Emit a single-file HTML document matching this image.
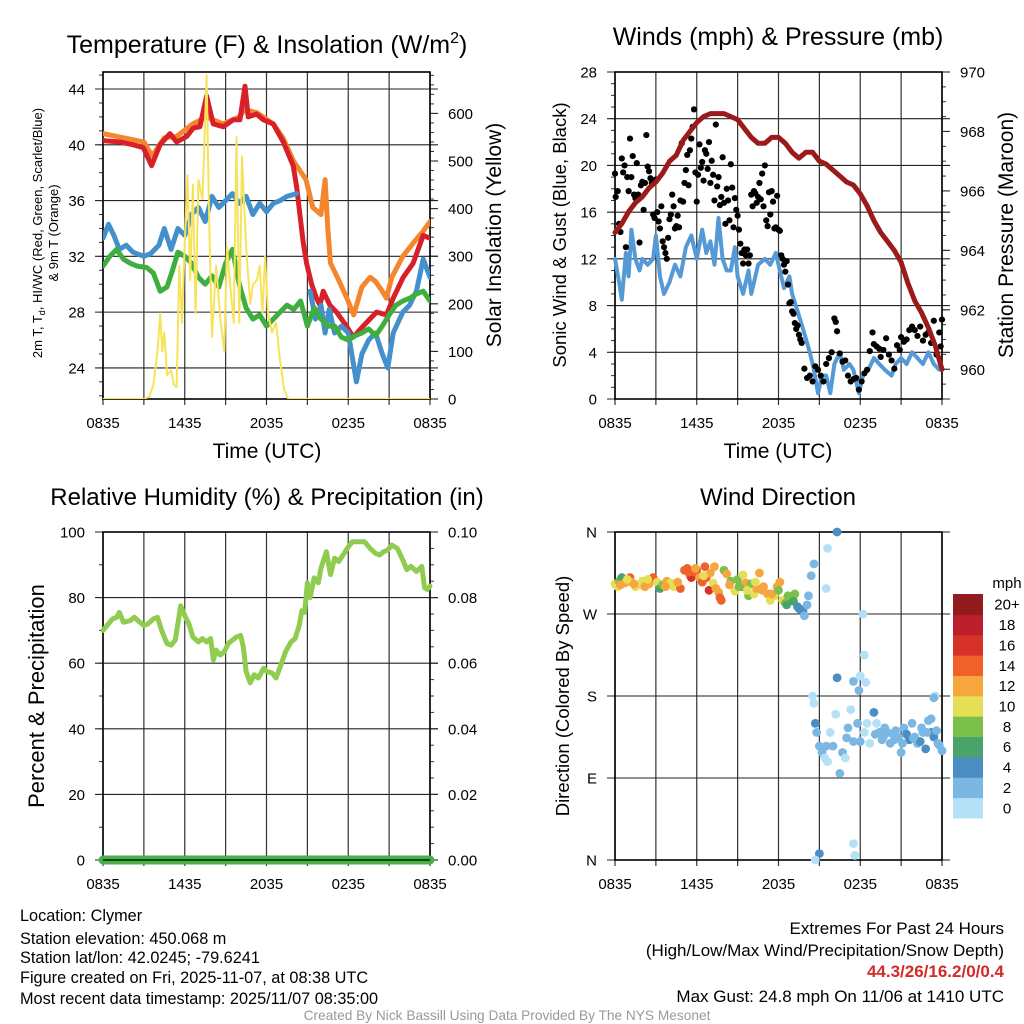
<!DOCTYPE html>
<html><head><meta charset="utf-8"><style>
html,body{margin:0;padding:0;background:#fff;}
svg{display:block;font-family:"Liberation Sans",sans-serif;}
</style></head><body>
<svg id="root" width="1024" height="1024" viewBox="0 0 1024 1024"></svg>
<script>
// ---------- DATA ----------
const tempRedT=[0,1.25,2.22,2.96,3.57,4.18,4.91,5.4,6.14,6.63,7.11,7.6,8.09,8.83,9.56,10.05,10.42,10.66,11.27,11.76,12.49,13.23,13.96,14.21,14.45,14.69,14.94,15.31,15.67,15.92,16.16,16.65,17.14,17.87,18.36,19.1,19.58,20.07,20.81,21.3,22.03,22.76,23.5,23.99];
const tempRedV=[40.3,40.2,40,39.8,38.5,40,40.8,40.2,40.6,41.2,41.3,43.5,41.5,41.3,41.8,41.8,44.2,42,42.2,41.8,41.5,40.2,38.5,37,35,33,31.5,30,29,28.5,29.5,28.5,28,27,26.2,27,27.5,28,27.8,29,30.5,31.5,33.5,33.3];
const tempOrT=[0,1.5,3,3.6,4.5,5.4,6.6,7.6,8.8,10,10.4,11.3,12.5,13.2,14,14.9,15.4,16,16.3,16.5,16.7,17.2,17.9,18.4,19,19.6,20,20.5,20.8,21.2,22,22.8,23.5,24];
const tempOrV=[40.8,40.5,40.2,39.2,40.5,40.6,41.5,42,41.5,42,42.5,42.3,41.5,40.5,38.8,37.5,35.5,35,37.5,34,31.5,30.5,29,27.8,29.8,30.5,30.2,29.5,29,30.5,32,33,33.8,34.5];
const tempBlueT=[0,0.4,0.8,1.2,1.7,2.2,3,3.5,4.1,4.5,5,5.5,6,6.5,7,7.5,8,8.5,9,9.5,10,10.5,11,11.5,12,12.5,13,13.5,14.2];
const tempBlueV=[33.3,34.3,33.5,32.5,32.8,32.3,32,32.2,32.8,34,32.5,34,33.5,35,35.5,34.5,36.3,35.5,36,36.5,35.8,36.3,35,35.8,35.2,35.8,36,36.3,36.5];
const tempBlue2T=[15.2,15.6,16,16.3,16.6,17,17.5,18,18.6,19,19.5,20,20.5,20.9,21.3,22,22.5,23,23.5,24];
const tempBlue2V=[29.5,27.5,28.5,26.5,28.2,26.5,27,26.5,23,25,26,26.5,25,24,26.5,28,28.5,29.5,31.8,30.5];
const tempGrT=[0,0.5,1,1.5,2,2.5,3.2,3.7,4.2,4.7,5.1,5.5,6,6.5,7,7.5,8,8.5,9,9.5,10,10.5,11,11.5,12,12.5,13,13.5,14,14.5,15,15.5,16,16.5,17,17.5,18,18.5,19,19.5,20,20.5,21,21.5,22,22.5,23,23.5,24];
const tempGrV=[31.3,32,32.5,31.8,31.5,31.3,31.2,30.8,29.5,29.8,31,32.3,32,31.5,30.5,30,30.6,29.8,31.5,32.5,30,28.3,27.5,27.8,27,27.5,28,28.5,28.2,28.8,27,28.3,27.5,27,27,26.2,26,26.3,26.5,26.8,26.3,27,27.8,28.5,28.8,29,29.3,29.5,28.8];
const solarT=[0,3,3.4,3.7,4,4.2,4.35,4.5,4.7,5,5.2,5.4,5.6,5.8,6,6.2,6.4,6.6,6.8,7,7.3,7.6,7.8,8,8.3,8.6,8.9,9.1,9.3,9.6,9.8,10,10.2,10.5,10.8,11,11.3,11.5,11.7,11.9,12.1,12.4,12.7,13,13.3,13.6,24];
const solarV=[0,0,5,30,100,180,100,140,50,60,30,25,280,160,330,470,250,450,180,460,420,680,360,130,280,170,100,320,250,160,550,160,510,320,200,240,250,280,180,300,180,140,160,80,20,0,0];
const windT=[0,0.3,0.5,0.8,1,1.2,1.5,1.8,2,2.4,2.8,3,3.3,3.6,4,4.4,4.8,5.2,5.6,6,6.4,6.7,7,7.3,7.6,7.9,8.2,8.5,8.8,9,9.4,9.8,10,10.5,11,11.4,11.8,12,12.4,12.8,13,13.4,13.8,14.3,14.6,14.9,15.2,15.5,15.8,16.1,16.5,16.8,17.2,17.5,17.9,18.2,18.6,19,19.4,19.8,20.3,20.6,21,21.4,21.8,22.2,22.6,23,23.4,23.8,24];
const windV=[12,10,8.5,12.5,10.5,14.5,12,11,12,11.5,12,14,10.5,9,10,11.5,10.5,13,14,12,14.5,12.5,13.5,11.5,15.5,12,11,11,13,10.5,9,11,9,11.5,12,11.5,12.5,11.5,9.5,10.5,9,7.5,6,4,2.5,0.5,2,2,0.5,3,4,2.5,3,2.5,0.5,2,2.5,3.5,3,2.5,2,3,3.5,3,4,3.5,3,4,3,2.5,2.5];
const gustT=[0,0.05,0.2,0.3,0.4,0.5,0.6,0.7,0.8,0.9,1,1.1,1.2,1.3,1.4,1.5,1.6,1.7,1.8,1.9,2,2.1,2.2,2.3,2.4,2.5,2.6,2.7,2.8,2.9,3,3.1,3.2,3.3,3.4,3.5,3.6,3.7,3.8,3.9,4,4.1,4.2,4.3,4.4,4.5,4.6,4.7,4.8,4.9,5,5.1,5.2,5.3,5.4,5.5,5.6,5.7,5.8,5.9,6,6.1,6.2,6.3,6.4,6.5,6.6,6.7,6.8,6.9,7,7.1,7.2,7.3,7.4,7.5,7.6,7.7,7.8,7.9,8,8.1,8.2,8.3,8.4,8.5,8.6,8.7,8.8,8.9,9,9.1,9.2,9.3,9.4,9.5,9.6,9.7,9.8,9.9,10,10.1,10.2,10.3,10.4,10.5,10.6,10.7,10.8,10.9,11,11.1,11.2,11.3,11.4,11.5,11.6,11.7,11.8,11.9,12,12.1,12.2,12.3,12.4,12.5,12.6,12.7,12.8,12.9,13,13.1,13.2,13.3,13.4,13.5,13.6,13.7,13.9,14.1,14.3,14.5,14.7,14.9,15.1,15.3,15.5,15.7,15.9,16.1,16.2,16.3,16.5,16.7,16.9,17.1,17.3,17.5,17.7,17.9,18.1,18.3,18.5,18.7,18.9,19,19.2,19.4,19.5,19.7,19.9,20.1,20.3,20.5,20.7,20.9,21,21.2,21.4,21.6,21.8,22,22.2,22.4,22.6,22.8,23,23.2,23.4,23.6,23.8,23.9,24];
const gustV=[19.3,17.3,17.8,15,14.3,20.6,19.4,20,13,19,17.8,22.3,19,20.8,17.5,17.2,20.2,17.5,13.4,18.3,18.6,16.2,18.5,22.6,19.9,19.5,18.9,18.5,15.8,15.5,18.8,16,15.2,14.6,16.5,13.5,13,12.5,12,13.8,15.4,15.8,17.5,16.5,14.6,14.8,15.7,14.7,17,21.9,16.9,18.5,19.6,20.9,18.3,21.3,22.3,23.3,24.8,19.4,16.9,19.2,21.8,19.8,20.3,18.7,21.3,21,19.7,22,18.5,20.4,19.2,17,23.5,18.2,19,16.6,17.3,20.7,16.8,15,18,17,15.3,20.1,18.1,14.7,17.2,16.2,15.7,14.5,13.3,12.5,11.6,12.8,12.3,12.8,11.6,12.3,17.5,16.5,17.8,17.6,16.8,17.3,18.5,17.1,19.3,16.5,20,15.3,14.8,17.7,15.8,17.8,16.9,14.6,14.7,17.4,14.5,14.4,12.3,12,11.5,10.9,11.8,9.8,8.2,8.3,7.5,7.3,6.5,6,6.3,5.5,5.1,4.8,2.6,1.8,2,1.5,2.8,2.5,2,1.5,3,3.5,4,6.9,6.6,5.8,3.9,3.2,3.3,2,1.5,1.7,1.8,0.8,1.5,2.2,2.5,4.1,5.7,4.7,4.5,4.3,3.6,4.2,5.2,3.8,3.3,2.6,4.6,4.2,5.3,4.9,5.1,5.9,6.2,5.9,5.4,6.2,5,5.5,5.7,4.8,6.7,3.8,5.7,4.5,6.8];
const presT=[0,0.5,1,1.5,2,2.5,3,3.5,4,4.5,5,5.5,6,6.5,7,7.5,8,8.5,9,9.5,10,10.5,11,11.5,12,12.5,13,13.5,14,14.5,15,15.5,16,16.5,17,17.5,18,18.5,19,19.5,20,20.5,21,21.5,22,22.5,23,23.5,24];
const presV=[964.6,964.9,965.3,965.6,965.8,966.1,966.3,966.6,967,967.2,967.7,968,968.3,968.5,968.6,968.6,968.6,968.5,968.4,968.1,967.8,967.6,967.6,967.8,967.8,967.6,967.3,967.1,967.3,967.3,967,966.9,966.7,966.5,966.3,966.2,965.9,965.5,965,964.6,964.3,964,963.6,962.9,962.3,961.9,961.4,960.8,960];
const rhT=[0,0.3,0.7,1,1.2,1.5,2,2.3,2.7,3,3.3,3.7,4,4.3,4.7,5,5.3,5.5,5.7,6,6.3,6.6,7,7.3,7.6,7.9,8.1,8.3,8.6,8.9,9.2,9.5,9.8,10.1,10.3,10.5,10.8,11.1,11.4,11.8,12,12.4,12.7,13.1,13.4,13.8,14.1,14.4,14.6,14.8,15,15.2,15.5,15.8,16,16.4,16.7,17,17.3,17.7,18,18.3,18.8,19.2,19.6,20,20.3,20.6,20.9,21.2,21.6,22,22.3,22.6,23,23.4,23.6,23.8,24];
const rhV=[70,71.5,73.5,74,75.5,72.5,73,74,72.5,71.5,72,73.5,74,70,66,65.5,67,72,77.5,74.5,72,68,66.5,67.5,66.5,67.5,61,64,62.5,63.5,66,67,68,68.5,65,57.5,54,56.5,55.5,58.5,57.5,57,55.5,60,63.5,66.5,67.5,71.5,76,75.5,84.5,80,86,84.5,89,94,87,92,91,93.5,95.5,97,97,97,95,93.5,93,94,94.5,96,95,91.5,88.5,89.5,88,89.5,83,82.5,83.5];
const precipT=[0,24];
const precipV=[0,0];
const dirT=[0,0.2,0.3,0.5,0.7,1.1,1.2,1.5,1.8,2,2.2,2.5,2.8,3.1,3.3,3.5,3.8,4.1,4.3,4.8,5.1,5.3,5.5,5.6,5.8,6,6.2,6.4,6.6,6.7,6.9,7,7.2,7.3,7.6,7.7,7.8,8,8.2,8.5,8.8,9,9.3,9.4,9.6,9.8,10,10.2,10.4,10.6,10.9,11.2,11.4,11.7,11.9,12.1,12.3,12.5,12.6,12.8,13,13.2,13.4,13.6,13.8,13.9,14.1,14.2,14.4,14.6,15.5,15.6,16.3,18.2,18.3,17.5,18,18.4,16.3,14.5,14.6,14.7,14.8,15,15.2,15.4,15.6,15.5,15.8,16,16.2,16.5,16.7,16.9,17,17.1,17.3,17.5,17.8,18,18.3,18.5,18.7,19,19.2,19.4,19.6,19.8,20,20.2,20.4,20.6,20.8,21,21.2,21.4,21.6,21.8,22,22.2,22.4,22.6,22.8,23,23.2,23.4,23.6,23.8,24,23.5,23.4,23.2,15,17.5,17.6,14.7,17.9,0.4,0.9,1.4,2.4,3.7,4.6,5.4,5.9,6.5,7.4,8.4,9.1,9.7,10.3,10.8,11.5,12.0,12.7,13.1,13.5,19.1,19.7,20.5,21.1,21.9,22.5,22.9,23.7];
const dirV=[303,300,306,310,304,310,305,300,302,306,300,303,310,305,298,302,306,304,300,298,318,320,312,310,316,318,310,305,322,310,296,315,304,322,294,288,285,318,314,306,295,308,300,313,304,290,303,292,298,315,300,292,285,290,300,305,285,282,280,288,285,292,278,275,273,268,280,290,312,325,298,342,360,270,225,196,202,195,200,180,172,150,140,125,118,112,108,125,140,125,160,95,118,112,134,145,165,130,150,130,140,150,128,162,150,140,132,145,140,128,138,142,134,118,145,138,132,150,135,128,130,140,122,153,140,135,142,126,120,180,178,155,7,18,5,0,186,302,308,303,308,300,305,316,320,312,298,302,300,296,305,296,292,296,290,284,276,138,135,132,128,134,145,140,128];
const dirS=[11,10,8,7,12,15,12,11,11,10,12,12,14,10,7,8,12,10,11,14,14,15,13,17,14,14,12,14,14,15,16,12,11,12,12,14,14,9,12,8,10,9,7,10,12,8,8,11,12,13,12,12,11,10,12,13,10,9,7,8,7,8,5,4,5,3,3,2,2,2,1,1,4,1,1,3,1,1,4,1,1,4,2,2,2,1,1,2,1,2,1,3,2,1,2,2,1,2,2,2,1,1,1,4,1,2,2,2,2,3,2,2,2,2,2,4,4,3,2,2,4,2,4,2,4,4,2,2,2,1,2,2,4,1,1,1,2,12,10,12,11,12,13,14,12,11,13,12,9,10,11,12,12,8,9,7,5,3,2,2,2,3,2,2,2];
const speedBins=["0","2","4","6","8","10","12","14","16","18","20+"];
const timeLabels=["0835","1435","2035","0235","0835"];

// ---------- HELPERS ----------
const NS="http://www.w3.org/2000/svg";
const root=document.getElementById('root');
function el(tag,attrs,parent,text){const e=document.createElementNS(NS,tag);for(const k in attrs)e.setAttribute(k,attrs[k]);if(text!==undefined)e.textContent=text;(parent||root).appendChild(e);return e;}
const binColors=["#b5e1f7","#7ab8e3","#4a8ec4","#4aa36a","#7ac04a","#e6de55","#f6a53f","#f0612a","#d8312a","#bd1f2a","#931a1d"];
function speedColor(s){let i=Math.floor(s/2);if(i>10)i=10;if(i<0)i=0;return binColors[i];}

function makePanel(L,R,T,B,yMin,yMax){
  return {L,R,T,B,x:h=>L+(R-L)*h/24,y:v=>B-(B-T)*(v-yMin)/(yMax-yMin)};
}
function frame(P,name,hLines,yTicksL,minorL,labFmt,rTicks,rMinor,rFmt,yR){
  const g=el('g',{},root);
  
  
  for(let i=0;i<=8;i++){const x=P.x(i*3);el('line',{x1:x,x2:x,y1:P.T,y2:P.B+6,stroke:'#333','stroke-width':1.2},g);}
  hLines.forEach(v=>{const y=P.y(v);el('line',{x1:P.L-8,x2:P.R+8,y1:y,y2:y,stroke:'#222','stroke-width':1.1},g);});
  yTicksL.forEach(v=>{const y=P.y(v);const t=el('text',{x:P.L-18,y:y+5.5,'text-anchor':'end','font-size':15,fill:'#000'},g,labFmt(v));});
  minorL.forEach(v=>{const y=P.y(v);el('line',{x1:P.L-4,x2:P.L,y1:y,y2:y,stroke:'#333','stroke-width':1},g);});
  if(rTicks){rTicks.forEach(v=>{const y=yR(v);el('line',{x1:P.R,x2:P.R+8,y1:y,y2:y,stroke:'#222','stroke-width':1.1},g);const t=el('text',{x:P.R+18,y:y+5.5,'font-size':15,fill:'#000'},g,rFmt(v));});
    rMinor.forEach(v=>{const y=yR(v);el('line',{x1:P.R,x2:P.R+4,y1:y,y2:y,stroke:'#333','stroke-width':1},g);});}
  timeLabels.forEach((s,i)=>{const t=el('text',{x:P.x(i*6),y:P.B+29,'text-anchor':'middle','font-size':15,fill:'#000'},g,s);});
  el('rect',{x:P.L,y:P.T,width:P.R-P.L,height:P.B-P.T,fill:'none',stroke:'#000','stroke-width':1.6},g);
}
function line(P,ts,vs,yf,color,w,name,parent){
  let d='';ts.forEach((t,i)=>{d+=(i?'L':'M')+P.x(t).toFixed(1)+','+yf(vs[i]).toFixed(1);});
  const p=el('path',{d:d,fill:'none',stroke:color,'stroke-width':w,'stroke-linejoin':'round','stroke-linecap':'round'},parent||root);
  
  
  return p;
}
function txt(x,y,s,size,name,extra){const t=el('text',Object.assign({x:x,y:y,'font-size':size,fill:'#000'},extra||{}),root,s);return t;}
function rotTxt(x,y,s,size,name){const t=el('text',{x:0,y:0,'font-size':size,fill:'#000','text-anchor':'middle',transform:`translate(${x},${y}) rotate(-90)`},root,s);return t;}
function range(a,b,s){const r=[];for(let v=a;v<=b+1e-9;v+=s)r.push(+v.toFixed(4));return r;}

// ---------- PANEL 1: Temperature ----------
const P1=makePanel(103,430,72,399,21.77,45.22);
const ySol=v=>399-(399-72)*v/687;
frame(P1,'temperature',[24,28,32,36,40,44],[24,28,32,36,40,44],range(22,45,1),v=>v,range(0,600,100),range(0,680,20),v=>v,ySol);
const clip1=el('clipPath',{id:'c1'});el('rect',{x:P1.L,y:P1.T,width:P1.R-P1.L,height:P1.B-P1.T},clip1);
const g1=el('g',{'clip-path':'url(#c1)'});
line(P1,tempOrT,tempOrV,P1.y,'#f5862e',5,'temp-9m-orange-line',g1);
line(P1,tempRedT,tempRedV,P1.y,'#d7202a',5,'temp-2m-red-line',g1);
line(P1,tempBlueT,tempBlueV,P1.y,'#4390cc',5,'windchill-blue-line',g1);
line(P1,tempBlue2T,tempBlue2V,P1.y,'#4390cc',5,'windchill-blue-line-late',g1);
line(P1,tempGrT,tempGrV,P1.y,'#3eaf3e',5,'dewpoint-green-line',g1);
line(P1,solarT,solarV,ySol,'#f7e35a',2,'solar-yellow-line',g1);
txt(267,53,'',25,'temperature-title',{'text-anchor':'middle'}).innerHTML='Temperature (F) &amp; Insolation (W/m<tspan font-size="16" dy="-10">2</tspan><tspan dy="10">)</tspan>';
txt(267,458,'Time (UTC)',21,'x-axis-title',{'text-anchor':'middle'});
rotTxt(42,233,'',13,'temp-y-axis-title').innerHTML='2m T, T<tspan font-size="9" dy="3">d</tspan><tspan dy="-3">, HI/WC (Red, Green, Scarlet/Blue)</tspan>';
rotTxt(58,233,'& 9m T (Orange)',13,'temp-y-axis-title-2');
rotTxt(501,235,'Solar Insolation (Yellow)',21,'solar-y-axis-title');

// ---------- PANEL 2: Winds ----------
const P2=makePanel(615,942,72,399,0,28);
const yPres=v=>399-(399-72)*(v-959)/11;
frame(P2,'winds',[0,4,8,12,16,20,24,28],[0,4,8,12,16,20,24,28],range(0,28,1),v=>v,range(960,970,2),range(959.5,970,0.5),v=>v,yPres);
const clip2=el('clipPath',{id:'c2'});el('rect',{x:P2.L-4,y:P2.T,width:P2.R-P2.L+8,height:P2.B-P2.T},clip2);
const g2=el('g',{'clip-path':'url(#c2)'});
line(P2,windT,windV,P2.y,'#559ad6',4,'sonic-wind-blue-line',g2);
gustT.forEach((t,i)=>{const c=el('circle',{cx:P2.x(t),cy:P2.y(gustV[i]),r:3.1,fill:'#000'},g2);
  
  });
line(P2,presT,presV,yPres,'#9b1b1b',5,'pressure-maroon-line',g2);
txt(778,45,'Winds (mph) & Pressure (mb)',25,'winds-title',{'text-anchor':'middle'});
txt(778,458,'Time (UTC)',21,'x-axis-title-2',{'text-anchor':'middle'});
rotTxt(566,235,'Sonic Wind & Gust (Blue, Black)',18.5,'wind-y-axis-title');
rotTxt(1013,235,'Station Pressure (Maroon)',21,'pressure-y-axis-title');

// ---------- PANEL 3: RH ----------
const P3=makePanel(103,430,532,860,0,100);
const yPr=v=>860-(860-532)*v/0.1;
frame(P3,'humidity',[0,20,40,60,80,100],[0,20,40,60,80,100],range(0,100,10),v=>v,range(0,0.1,0.02),range(0,0.1,0.005),v=>v.toFixed(2),yPr);
line(P3,rhT,rhV,P3.y,'#8fcc4f',5,'rh-line');
line(P3,precipT,precipV,yPr,'#48b048',9,'precip-line');
el('line',{x1:P3.L,x2:P3.R,y1:860,y2:860,stroke:'#000','stroke-width':1.2});
txt(267,505,'Relative Humidity (%) & Precipitation (in)',24,'humidity-title',{'text-anchor':'middle'});
rotTxt(44,696,'Percent & Precipitation',22,'humidity-y-axis-title');

// ---------- PANEL 4: Wind direction ----------
const P4=makePanel(615,942,532,860,0,360);
frame(P4,'wind-direction',[0,90,180,270,360],[0,90,180,270,360],[],v=>({0:'N',90:'E',180:'S',270:'W',360:'N'})[v],null);
dirT.forEach((t,i)=>{const c=el('circle',{cx:P4.x(t),cy:P4.y(dirV[i]),r:4.4,fill:speedColor(dirS[i])});
  
  });
txt(778,505,'Wind Direction',24,'wind-direction-title',{'text-anchor':'middle'});
rotTxt(569,696,'Direction (Colored By Speed)',18.5,'direction-y-axis-title');
const cbTop=594,cbBot=818,cbH=(cbBot-cbTop)/11;
const cb=el('g',{});


speedBins.forEach((s,i)=>{const y=cbBot-(i+1)*cbH;el('rect',{x:953,y:y,width:30,height:cbH+0.5,fill:binColors[i]},cb);
  const t=el('text',{x:1007,y:y+cbH/2+5.5,'font-size':15,'text-anchor':'middle',fill:'#000'},cb,s);
  
  });
txt(1007,588,'mph',15,'colorbar-title',{'text-anchor':'middle'});

// ---------- FOOTER ----------
const info=['Location: Clymer','Station elevation: 450.068 m','Station lat/lon: 42.0245; -79.6241','Figure created on Fri, 2025-11-07, at 08:38 UTC','Most recent data timestamp: 2025/11/07 08:35:00'];
const infoY=[921,944,963,983,1004];
info.forEach((s,i)=>txt(20,infoY[i],s,16.3,'station-info-line'));
txt(1004,934,'Extremes For Past 24 Hours',17,'extremes-title',{'text-anchor':'end'});
txt(1004,956,'(High/Low/Max Wind/Precipitation/Snow Depth)',17,'extremes-subtitle',{'text-anchor':'end'});
txt(1004,977,'44.3/26/16.2/0/0.4',17,'extremes-values',{'text-anchor':'end',fill:'#d42a2a','font-weight':'bold'});
txt(1004,1002,'Max Gust: 24.8 mph On 11/06 at 1410 UTC',17,'max-gust',{'text-anchor':'end'});
txt(507,1020,'Created By Nick Bassill Using Data Provided By The NYS Mesonet',13.7,'credit-line',{'text-anchor':'middle',fill:'#999'});
</script>
</body></html>
